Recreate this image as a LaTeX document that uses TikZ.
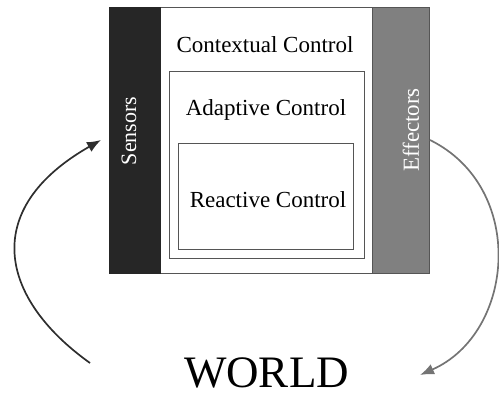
\documentclass[tikz,border=0pt]{standalone}
\usepackage{fontspec}
\setmainfont{Liberation Serif}
\usetikzlibrary{arrows.meta}
\definecolor{sensdark}{HTML}{262626}
\definecolor{effgray}{HTML}{808080}
\definecolor{lineg}{HTML}{555555}
\definecolor{arrdark}{HTML}{2E2E2E}
\definecolor{arrgray}{HTML}{747474}
\tikzset{
  boxline/.style={draw=lineg, line width=0.8pt, inner sep=0pt},
  bartext/.style={text=white, font=\fontsize{23}{23}\selectfont, rotate=90, inner sep=0pt},
  ctltext/.style={font=\fontsize{23}{23}\selectfont, anchor=base, inner sep=0pt},
  loop/.style={line width=1.7pt, -{Latex[length=14pt,width=11pt]}}
}
\begin{document}
\begin{tikzpicture}[x=1pt,y=-1pt]
\useasboundingbox (0,0) rectangle (499,394);
% outer frame and bars
\node[boxline, fill=white, minimum width=320pt, minimum height=266pt] (frame) at (269,140) {};
\node[draw=sensdark, fill=sensdark, inner sep=0pt, minimum width=51pt, minimum height=266pt] (sensbar) at (134.5,140) {};
\node[draw=lineg, line width=0.6pt, fill=effgray, inner sep=0pt, minimum width=57pt, minimum height=266pt] (effbar) at (400.5,140) {};
% inner boxes
\node[boxline, minimum width=195pt, minimum height=187pt] (adaptbox) at (266.5,164.5) {};
\node[boxline, minimum width=175pt, minimum height=106pt] (reactbox) at (265.5,196) {};
% texts
\node[ctltext] (context) at (265,52.5) {Contextual Control};
\node[ctltext] (adaptive) at (266,115) {Adaptive Control};
\node[ctltext] (reactive) at (268,207) {Reactive Control};
\node[bartext, font=\fontsize{22}{22}\selectfont] (sensors) at (129,131) {Sensors};
\node[bartext] (effectors) at (411,130) {Effectors};
\node[font=\fontsize{45}{45}\selectfont, anchor=base, inner sep=0pt] (world) at (266.5,387.5) {WORLD};
% loop arrows
\coordinate (lstart) at (90,363);
\coordinate (ltip) at (101,140);
\coordinate (rstart) at (430,140);
\coordinate (rtip) at (420,375);
\draw[loop, draw=arrdark] (lstart) .. controls (-1,298) and (-20,209) .. (ltip);
\draw[loop, draw=arrgray] (rstart) .. controls (527,188) and (515,333) .. (rtip);
\end{tikzpicture}
\end{document}
